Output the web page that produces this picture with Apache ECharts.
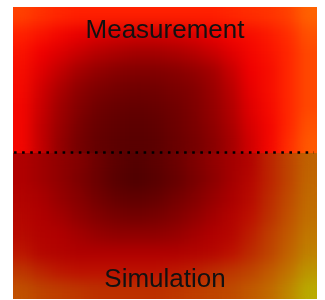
<!DOCTYPE html>
<html>
<head>
<meta charset="utf-8">
<script src="https://cdn.jsdelivr.net/npm/echarts@6/dist/echarts.min.js"></script>
<style>
  html, body { margin: 0; padding: 0; background: #fff; }
  #wrap { position: relative; width: 325px; height: 300px; }
  .half { position: absolute; left: 13px; width: 304px; height: 146px; filter: url(#smooth); }
  #top { top: 7px; }
  #bottom { top: 153px; }
  #overlay { position: absolute; left: 0; top: 0; width: 325px; height: 300px; }
</style>
</head>
<body>
<!-- 平滑：模糊后把透明度补回 1，边缘不会发白 -->
<svg width="0" height="0" style="position:absolute">
  <filter id="smooth" x="0" y="0" width="1" height="1" color-interpolation-filters="sRGB">
    <feGaussianBlur stdDeviation="7"/>
    <feComponentTransfer><feFuncA type="linear" slope="0" intercept="1"/></feComponentTransfer>
  </filter>
</svg>
<div id="wrap">
  <div id="top" class="half"></div>
  <div id="bottom" class="half"></div>
  <div id="overlay"></div>
</div>
<script>
// ── 数据：上半部分为测量，下半部分为仿真（0 = 最暗，100 = 最亮）──
const columns = ['0','1','2','3','4','5','6','7','8','9','10','11','12','13','14','15'];
const measurementRows = [
  [80,75,72,70,70,70,70,70,70,70,70,72,74,76,80,88],
  [70,66,62,58,55,53,52,52,53,55,58,62,64,68,74,84],
  [66,60,55,50,45,42,40,40,42,45,50,56,62,66,72,82],
  [64,56,48,40,34,30,28,28,30,34,40,50,60,64,72,82],
  [63,52,42,32,26,22,20,21,24,28,36,46,58,64,72,82],
  [62,50,38,28,20,16,14,16,20,26,34,44,56,63,72,82],
  [62,48,36,24,16,12,10,12,18,24,32,42,54,62,72,84],
  [62,48,34,22,14,10,8,10,16,22,30,40,52,62,74,86]
];
const simulationRows = [
  [50,45,40,34,25,18,14,18,24,32,40,46,52,66,76,84],
  [50,45,40,32,24,16,12,16,22,30,38,46,54,66,76,85],
  [52,48,42,36,28,22,20,22,28,34,42,48,56,68,78,86],
  [54,50,46,40,34,30,28,30,34,40,46,52,60,70,80,87],
  [56,52,50,46,42,40,40,40,42,46,50,54,64,74,82,89],
  [62,54,52,50,50,50,50,50,50,52,54,60,68,76,84,91],
  [72,66,62,60,60,60,60,60,62,64,68,72,76,82,88,95],
  [80,76,74,72,70,70,70,70,72,74,76,78,82,86,92,99]
];
const rowLabels = ['0','1','2','3','4','5','6','7'];

const measurementColors = ['#4a0000','#5c0000','#700000','#880000','#a40000','#c80000','#f00000','#ff2000','#ff4000','#ff6a00','#ffc000'];
const simulationColors = ['#400000','#4c0000','#600000','#780000','#900000','#b00000','#bc1000','#bc3000','#c05000','#c07c00','#b8b000'];

const toCells = rows => {
  const out = [];
  rows.forEach((row, r) => row.forEach((v, c) => out.push([c, r, v])));
  return out;
};

// ── 热力图（每半幅一个实例）──
function renderHalf(id, rows, colors) {
  const chart = echarts.init(document.getElementById(id));
  chart.setOption({
    animation: false,
    grid: { left: 0, top: 0, right: 0, bottom: 0 },
    xAxis: { type: 'category', data: columns, show: false },
    yAxis: { type: 'category', data: rowLabels, inverse: true, show: false },
    visualMap: { type: 'continuous', min: 0, max: 100, show: false, inRange: { color: colors } },
    series: [{ type: 'heatmap', data: toCells(rows), progressive: 0 }]
  });
  return chart;
}
renderHalf('top', measurementRows, measurementColors);
renderHalf('bottom', simulationRows, simulationColors);

// ── 文字和分隔虚线 ──
const overlay = echarts.init(document.getElementById('overlay'));
overlay.setOption({
  animation: false,
  graphic: [
    { type: 'line', silent: true,
      shape: { x1: 14, y1: 152.5, x2: 314, y2: 152.5 },
      style: { stroke: '#000', lineWidth: 2.6, lineDash: [2.6, 5.5] } },
    { type: 'text', x: 165, y: 30.5,
      style: { text: 'Measurement', fontFamily: 'Liberation Sans', fontSize: 26, fill: '#111', align: 'center', verticalAlign: 'middle' } },
    { type: 'text', x: 165, y: 280,
      style: { text: 'Simulation', fontFamily: 'Liberation Sans', fontSize: 26, fill: '#111', align: 'center', verticalAlign: 'middle' } }
  ]
});
</script>
</body>
</html>
